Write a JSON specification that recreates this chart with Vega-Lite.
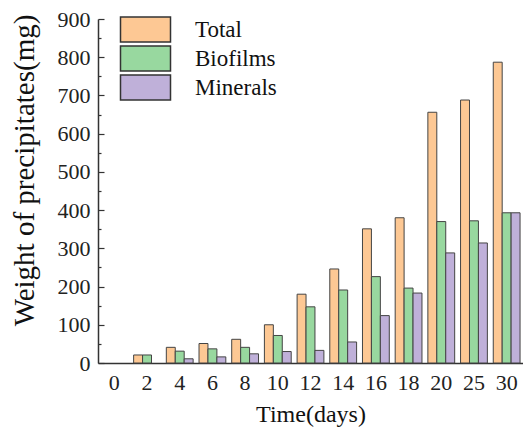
{
  "$schema": "https://vega.github.io/schema/vega-lite/v6.json",
  "autosize": "none",
  "width": 425,
  "height": 344,
  "padding": {"left": 98, "top": 19, "right": 0, "bottom": 64},
  "background": "white",
  "data": {
    "values": [
      {"day": "0", "type": "Total", "weight": null},
      {"day": "0", "type": "Biofilms", "weight": null},
      {"day": "0", "type": "Minerals", "weight": null},
      {"day": "2", "type": "Total", "weight": 21},
      {"day": "2", "type": "Biofilms", "weight": 21},
      {"day": "2", "type": "Minerals", "weight": null},
      {"day": "4", "type": "Total", "weight": 41},
      {"day": "4", "type": "Biofilms", "weight": 31},
      {"day": "4", "type": "Minerals", "weight": 11},
      {"day": "6", "type": "Total", "weight": 51},
      {"day": "6", "type": "Biofilms", "weight": 37},
      {"day": "6", "type": "Minerals", "weight": 16},
      {"day": "8", "type": "Total", "weight": 62},
      {"day": "8", "type": "Biofilms", "weight": 41},
      {"day": "8", "type": "Minerals", "weight": 24},
      {"day": "10", "type": "Total", "weight": 100},
      {"day": "10", "type": "Biofilms", "weight": 72},
      {"day": "10", "type": "Minerals", "weight": 30},
      {"day": "12", "type": "Total", "weight": 180},
      {"day": "12", "type": "Biofilms", "weight": 147},
      {"day": "12", "type": "Minerals", "weight": 33},
      {"day": "14", "type": "Total", "weight": 246},
      {"day": "14", "type": "Biofilms", "weight": 191},
      {"day": "14", "type": "Minerals", "weight": 55},
      {"day": "16", "type": "Total", "weight": 351},
      {"day": "16", "type": "Biofilms", "weight": 226},
      {"day": "16", "type": "Minerals", "weight": 124},
      {"day": "18", "type": "Total", "weight": 380},
      {"day": "18", "type": "Biofilms", "weight": 196},
      {"day": "18", "type": "Minerals", "weight": 183},
      {"day": "20", "type": "Total", "weight": 656},
      {"day": "20", "type": "Biofilms", "weight": 370},
      {"day": "20", "type": "Minerals", "weight": 288},
      {"day": "25", "type": "Total", "weight": 688},
      {"day": "25", "type": "Biofilms", "weight": 372},
      {"day": "25", "type": "Minerals", "weight": 314},
      {"day": "30", "type": "Total", "weight": 787},
      {"day": "30", "type": "Biofilms", "weight": 393},
      {"day": "30", "type": "Minerals", "weight": 393}
    ]
  },
  "mark": {"type": "bar", "stroke": "#444444", "strokeWidth": 1},
  "encoding": {
    "x": {
      "field": "day",
      "type": "ordinal",
      "sort": null,
      "scale": {
        "domain": ["0", "2", "4", "6", "8", "10", "12", "14", "16", "18", "20", "25", "30"],
        "paddingInner": 0.18,
        "paddingOuter": 0.09
      },
      "axis": {
        "title": "Time(days)",
        "labelAngle": 0,
        "ticks": false,
        "labelPadding": 9,
        "titleFontSize": 24,
        "titleBaseline": "alphabetic",
        "titleY": 58
      }
    },
    "xOffset": {
      "field": "type",
      "type": "nominal",
      "sort": ["Total", "Biofilms", "Minerals"]
    },
    "y": {
      "field": "weight",
      "type": "quantitative",
      "scale": {"domain": [0, 900], "nice": false},
      "axis": {
        "title": "Weight of precipitates(mg)",
        "values": [0, 50, 100, 150, 200, 250, 300, 350, 400, 450, 500, 550, 600, 650, 700, 750, 800, 850, 900],
        "labelExpr": "datum.value % 100 === 0 ? datum.label : ''",
        "tickSize": {"condition": {"test": "datum.value % 100 === 0", "value": -6}, "value": -3},
        "grid": false,
        "labelPadding": 14,
        "titleFontSize": 29,
        "titleAngle": -90,
        "titleBaseline": "alphabetic",
        "titleX": -65,
        "titleY": 151
      }
    },
    "color": {
      "field": "type",
      "type": "nominal",
      "sort": ["Total", "Biofilms", "Minerals"],
      "scale": {
        "domain": ["Total", "Biofilms", "Minerals"],
        "range": ["#fdc894", "#98d89f", "#bfb0d9"]
      },
      "legend": {
        "title": null,
        "orient": "none",
        "legendX": 34,
        "legendY": -3,
        "symbolType": "M-2,-1H2V1H-2Z",
        "symbolSize": 625,
        "symbolStrokeColor": "#333333",
        "symbolStrokeWidth": 1.5,
        "symbolOpacity": 1,
        "labelFont": "Liberation Serif",
        "labelFontSize": 23,
        "labelColor": "#111111",
        "labelOffset": 36,
        "rowPadding": -3
      }
    }
  },
  "config": {
    "view": {"stroke": null},
    "font": "Liberation Serif",
    "axis": {
      "domainColor": "#333333",
      "domainWidth": 1.5,
      "tickColor": "#333333",
      "tickWidth": 1.2,
      "labelFont": "Liberation Serif",
      "labelFontSize": 22,
      "labelColor": "#222222",
      "titleFont": "Liberation Serif",
      "titleFontWeight": "normal",
      "titleColor": "#111111"
    }
  }
}
